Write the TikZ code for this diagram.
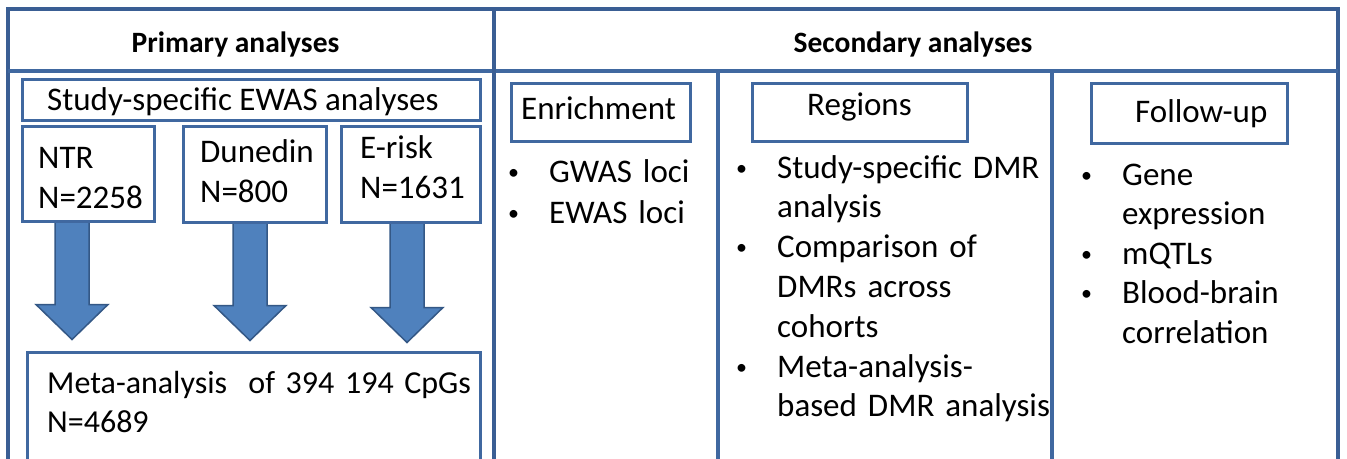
\documentclass[tikz,border=0pt]{standalone}
\usepackage{fontspec}
\setmainfont{Carlito}
\usetikzlibrary{calc}

\definecolor{frameblue}{RGB}{58,94,148}
\definecolor{boxblue}{RGB}{64,104,160}
\definecolor{arrowblue}{RGB}{79,129,189}
\definecolor{arrowedge}{RGB}{52,88,134}

\tikzset{
  frame/.style={draw=frameblue, line width=4.5pt},
  divider/.style={draw=boxblue, line width=3.5pt},
  panel/.style={draw=boxblue, line width=3pt, fill=white, inner sep=0pt},
  txt/.style={font=\fontsize{33}{40}\selectfont, inner sep=0pt, anchor=base west},
  head/.style={font=\fontsize{29.5}{36}\selectfont\bfseries, inner sep=0pt, anchor=base},
  blist/.style={txt, text width=440pt, align=left},
  blockarrow/.style={fill=arrowblue, draw=arrowedge, line width=1.5pt, line join=miter},
}

\newcommand{\bul}{\makebox[44pt][l]{\hspace*{3pt}\raisebox{3pt}{\fontsize{22}{22}\selectfont\textbullet}}}
\newcommand{\ind}{\hspace*{44pt}}
% block arrow from (#1) down to tip (#2)
\newcommand{\blockarrow}[2]{
  \draw[blockarrow] let \p1=(#1), \p2=(#2) in
    (\x1-17pt,\y1) -- (\x1-17pt,\y2+35pt) -- (\x1-36pt,\y2+35pt) -- (\x1,\y2)
    -- (\x1+36pt,\y2+35pt) -- (\x1+17pt,\y2+35pt) -- (\x1+17pt,\y1) -- cycle;
}

\begin{document}
\begin{tikzpicture}[x=1pt,y=-1pt]
\clip (0,0) rectangle (1347,458);
\fill[white] (0,0) rectangle (1347,458);

% table frame
\draw[frame] (8,480) -- (8,9) -- (1338,9) -- (1338,480);
\draw[divider] (8,71) -- (1338,71);
\draw[frame] (494,9) -- (494,480);
\draw[divider] (718,71) -- (718,480);
\draw[divider] (1052,71) -- (1052,480);

\node[head] (prim) at (235.5,52) {Primary analyses};
\node[head] (sec) at (913,52) {Secondary analyses};

% primary analyses
\node[panel, minimum width=458, minimum height=41] (ewas) at (251,99.5) {};
\node[txt] (ewastxt) at (47,110) {Study-specific EWAS analyses};

\node[panel, minimum width=453, minimum height=140] (meta) at (253.5,422) {};
\node[blist, font=\fontsize{32}{39}\selectfont] (metatxt) at (47,393) {Meta-analysis\ \ of 394 194 CpGs\\N=4689};

\path (88,221) ++(-16,0) coordinate (a1);
\path (254.5,221) ++(-4.5,0) coordinate (a2);
\path (410.5,221) ++(-3.5,0) coordinate (a3);
\path (a1 |- meta.north) ++(0,-11) coordinate (t1);
\path (a2 |- meta.north) ++(0,-10) coordinate (t2);
\path (a3 |- meta.north) ++(0,-8) coordinate (t3);
\blockarrow{a1}{t1}
\blockarrow{a2}{t2}
\blockarrow{a3}{t3}

\node[panel, minimum width=132, minimum height=95] (ntr) at (88,173.5) {};
\node[blist] (ntrtxt) at (38,168) {NTR\\N=2258};
\node[panel, minimum width=143, minimum height=96] (dun) at (254.5,174) {};
\node[blist] (duntxt) at (200,162) {Dunedin\\N=800};
\node[panel, minimum width=139, minimum height=96] (erisk) at (410.5,174) {};
\node[blist] (risktxt) at (360,158) {E-risk\\N=1631};

% secondary analyses
\node[panel, minimum width=179, minimum height=58] (enrich) at (600.5,112) {};
\node[txt] (enrichtxt) at (521,119) {Enrichment};
\node[panel, minimum width=215, minimum height=58] (regions) at (859.5,112) {};
\node[txt] (regionstxt) at (807,115) {Regions};
\node[panel, minimum width=196, minimum height=60] (follow) at (1189,113) {};
\node[txt] (followtxt) at (1135,122) {Follow-up};

\node[blist, font=\fontsize{33}{41}\selectfont] (enrichlist) at (505,182)
  {\bul GWAS loci\\\bul EWAS loci};
\node[blist, font=\fontsize{33}{39.8}\selectfont] (regionslist) at (733,178)
  {\bul Study-specific DMR\\\ind analysis\\\bul Comparison of\\\ind DMRs across\\\ind cohorts\\\bul Meta-analysis-\\\ind based DMR analysis};
\node[blist, font=\fontsize{33}{39.5}\selectfont] (followlist) at (1078,185)
  {\bul Gene\\\ind expression\\\bul mQTLs\\\bul Blood-brain\\\ind correlation};
\end{tikzpicture}
\end{document}
